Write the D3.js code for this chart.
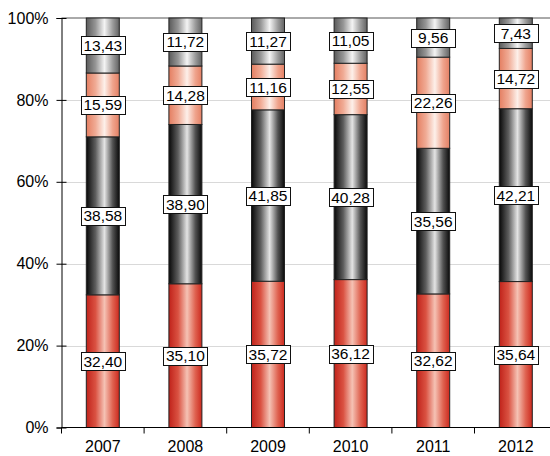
<!DOCTYPE html>
<html>
<head>
<meta charset="utf-8">
<script src="https://cdn.jsdelivr.net/npm/d3@7"></script>
<style>
  html, body { margin: 0; padding: 0; background: #fff; }
  svg { display: block; font-family: "Liberation Sans", Arial, sans-serif; }
</style>
</head>
<body>
<svg id="chart" width="550" height="456"></svg>
<script>
// Years along the x axis
const years = ["2007", "2008", "2009", "2010", "2011", "2012"];
// Shares (%) per year, stacked from the bottom up
const seriesRed    = [32.40, 35.10, 35.72, 36.12, 32.62, 35.64];
const seriesBlack  = [38.58, 38.90, 41.85, 40.28, 35.56, 42.21];
const seriesSalmon = [15.59, 14.28, 11.16, 12.55, 22.26, 14.72];
const seriesGray   = [13.43, 11.72, 11.27, 11.05, 9.56, 7.43];
const yTicks = [0, 20, 40, 60, 80, 100];

const series = [
  { key: "red", values: seriesRed, stops: ["#c0221a", "#da5242", "#f5c2b4", "#df6250", "#cc291e"] },
  { key: "black", values: seriesBlack, stops: ["#080808", "#5e5e5e", "#e4e4e4", "#525252", "#0a0a0a"] },
  { key: "salmon", values: seriesSalmon, stops: ["#e47e61", "#f0ab95", "#fdf0ea", "#efa48d", "#e48064"] },
  { key: "gray", values: seriesGray, stops: ["#5a5a5a", "#969696", "#f4f4f4", "#9c9c9c", "#626262"] }
];

const svg = d3.select("#chart");
const margin = { left: 61.5, top: 18, bottom: 427.5 };
const x = d3.scaleBand().domain(years).range([margin.left, margin.left + 6 * 82.6]).paddingInner(0).paddingOuter(0);
const y = d3.scaleLinear().domain([0, 100]).range([margin.bottom, margin.top]);
const barW = 33;
const fontStack = "Liberation Sans, Arial, sans-serif";

// Gradients for the cylinder look
const defs = svg.append("defs");
series.forEach(s => {
  const g = defs.append("linearGradient").attr("id", "grad-" + s.key)
    .attr("x1", "0%").attr("x2", "100%").attr("y1", "0%").attr("y2", "0%");
  const offs = [0, 0.28, 0.55, 0.8, 1];
  s.stops.forEach((c, i) => g.append("stop").attr("offset", offs[i]).attr("stop-color", c));
});

// Gridlines
svg.append("g").selectAll("line").data(yTicks.filter(t => t > 0 && t < 100)).join("line")
  .attr("x1", margin.left).attr("x2", 550)
  .attr("y1", d => Math.round(y(d)) + 0.5).attr("y2", d => Math.round(y(d)) + 0.5)
  .attr("stroke", "#d9d9d9").attr("stroke-width", 1);
// Top border
svg.append("line").attr("x1", margin.left).attr("x2", 550)
  .attr("y1", y(100)).attr("y2", y(100)).attr("stroke", "#555").attr("stroke-width", 1);

// Stack data
const rows = years.map((yr, i) => {
  const r = { year: yr };
  series.forEach(s => r[s.key] = s.values[i]);
  return r;
});
const stack = d3.stack().keys(series.map(s => s.key))(rows);

const gBars = svg.append("g");
stack.forEach(layer => {
  gBars.append("g").selectAll("rect").data(layer).join("rect")
    .attr("x", d => x(d.data.year) + x.bandwidth() / 2 - barW / 2)
    .attr("y", d => y(d[1]))
    .attr("width", barW)
    .attr("height", d => y(d[0]) - y(d[1]))
    .attr("fill", `url(#grad-${layer.key})`)
    .attr("stroke", "#222")
    .attr("stroke-width", 1);
});

// Axes
const yAxis = d3.axisLeft(y).tickValues(yTicks).tickFormat(d => d + "%").tickSize(5).tickPadding(8);
const gy = svg.append("g").attr("transform", `translate(${margin.left},0)`).call(yAxis);
gy.select(".domain").attr("stroke", "#000");
gy.selectAll(".tick line").attr("x2", 5).attr("x1", -5).attr("stroke", "#000");
gy.selectAll("text").attr("font-size", 16).attr("fill", "#000").attr("font-family", fontStack);

const xAxis = d3.axisBottom(x).tickSize(0).tickPadding(13);
const gx = svg.append("g").attr("transform", `translate(0,${margin.bottom})`).call(xAxis);
gx.select(".domain").remove();
gx.append("line").attr("x1", margin.left).attr("x2", 550).attr("stroke", "#000");
gx.selectAll("text").attr("font-size", 16).attr("fill", "#000").attr("font-family", fontStack);
// Category separator ticks
gx.append("g").selectAll("line").data(d3.range(7)).join("line")
  .attr("x1", i => margin.left + i * x.bandwidth()).attr("x2", i => margin.left + i * x.bandwidth())
  .attr("y1", 0).attr("y2", 6).attr("stroke", "#000");

// Value labels
const fmt = v => v.toFixed(2).replace(".", ",");
const gLabels = svg.append("g");
stack.forEach(layer => {
  layer.forEach(d => {
    const cx = x(d.data.year) + x.bandwidth() / 2;
    const cy = (y(d[0]) + y(d[1])) / 2;
    const g = gLabels.append("g");
    g.append("rect")
      .attr("x", Math.round(cx - 22) + 0.5).attr("y", Math.round(cy - 9) + 0.5)
      .attr("width", 44).attr("height", 18)
      .attr("fill", "#fff").attr("stroke", "#111").attr("stroke-width", 1);
    g.append("text").attr("x", cx).attr("y", cy + 5.5)
      .attr("text-anchor", "middle").attr("font-size", 15.5).attr("fill", "#000")
      .attr("font-family", fontStack)
      .text(fmt(d[1] - d[0]));
  });
});
</script>
</body>
</html>
